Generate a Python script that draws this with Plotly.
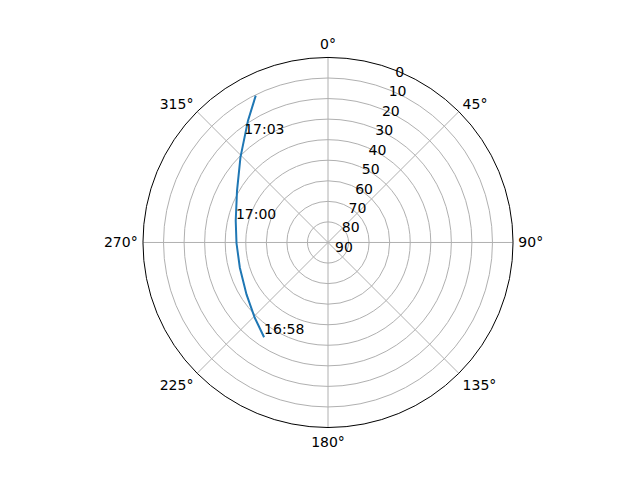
import plotly.graph_objects as go

# satellite pass: azimuth (deg, clockwise from north) and elevation (deg)
azimuth = [214.0, 224.2, 237.5, 254.0, 269.5, 283.2, 299.6, 314.2, 326.7, 333.8]
elevation = [34.4, 38.9, 43.0, 45.4, 45.5, 43.9, 39.1, 30.6, 19.1, 10.4]

label_times = ['16:58', '17:00', '17:03']
label_az = [214.0, 282.0, 321.5]
label_el = [34.4, 44.2, 24.5]

elev_ticks = [0, 10, 20, 30, 40, 50, 60, 70, 80, 90]
az_ticks = [0, 45, 90, 135, 180, 225, 270, 315]

fig = go.Figure()

fig.add_trace(go.Scatterpolar(
    r=elevation,
    theta=azimuth,
    mode='lines',
    line=dict(color='#1f77b4', width=2),
    hoverinfo='skip',
))

fig.add_trace(go.Scatterpolar(
    r=label_el,
    theta=label_az,
    mode='text',
    text=label_times,
    textposition='top right',
    textfont=dict(size=14, color='black'),
))

# the page body adds an 8px margin, so the domain is nudged up/left
fig.update_layout(
    width=640,
    height=480,
    showlegend=False,
    paper_bgcolor='white',
    margin=dict(l=0, r=0, t=0, b=0, autoexpand=False),
    font=dict(family='DejaVu Sans', size=14, color='black'),
    polar=dict(
        domain=dict(x=[0.1125, 0.8875], y=[0.126, 0.897]),
        bgcolor='white',
        angularaxis=dict(
            rotation=90,
            direction='clockwise',
            tickmode='array',
            tickvals=az_ticks,
            ticktext=['%d°' % a for a in az_ticks],
            showline=True,
            linecolor='black',
            linewidth=1,
            gridcolor='#b0b0b0',
            gridwidth=1,
            ticks='outside',
            ticklen=2,
            tickcolor='rgba(0,0,0,0)',
        ),
        radialaxis=dict(
            range=[90, 0],
            tickmode='array',
            tickvals=elev_ticks,
            ticktext=[str(e) for e in elev_ticks],
            angle=71,
            tickangle=71,
            showline=False,
            gridcolor='#b0b0b0',
            gridwidth=1,
            ticks='',
        ),
    ),
)

fig.write_html("out.html")
